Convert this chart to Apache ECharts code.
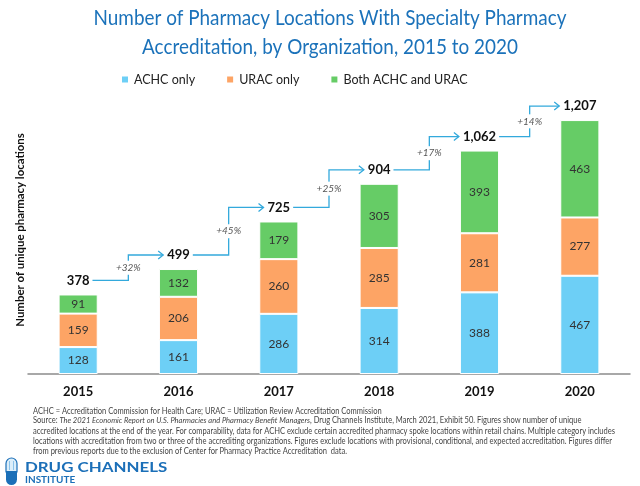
<!DOCTYPE html>
<html>
<head>
<meta charset="utf-8">
<script src="https://cdn.jsdelivr.net/npm/echarts@6/dist/echarts.min.js"></script>
<style>
html,body{margin:0;padding:0;background:#fff;}
#main{width:640px;height:486px;}
</style>
</head>
<body>
<div id="main"></div>
<script>
var years = ['2015','2016','2017','2018','2019','2020'];
var achcOnly = [128,161,286,314,388,467];
var uracOnly = [159,206,260,285,281,277];
var bothAchcUrac = [91,132,179,305,393,463];
var totals = [378,499,725,904,1062,1207];
var growthLabels = ['+32%','+45%','+25%','+17%','+14%'];
var totalLabels = ['378','499','725','904','1,062','1,207'];

var titleLines = ['Number of Pharmacy Locations With Specialty Pharmacy','Accreditation, by Organization, 2015 to 2020'];
var footerLines = [
  'ACHC = Accreditation Commission for Health Care; URAC = Utilization Review Accreditation Commission',
  'accredited locations at the end of the year. For comparability, data for ACHC exclude certain accredited pharmacy spoke locations within retail chains. Multiple category includes',
  'locations with accreditation from two or three of the accrediting organizations. Figures exclude locations with provisional, conditional, and expected accreditation. Figures differ',
  'from previous reports due to the exclusion of Center for Pharmacy Practice Accreditation  data.'
];

var FONT = 'Lato';
var mctx = document.createElement('canvas').getContext('2d');
function textW(t, font){ mctx.font = font; return mctx.measureText(t).width; }
var TOTAL_FONT = 'bold 13px ' + FONT;
var TITLE_FONT = '21px ' + FONT;
var FOOT_FONT = '8.5px ' + FONT;
var titleScale = 473 / textW(titleLines[0], TITLE_FONT);
var footScale = 582 / textW(footerLines[1], FOOT_FONT);

var chart = echarts.init(document.getElementById('main'));

var inLabel = {show:true, position:'inside', color:'#333', fontSize:12, fontFamily:FONT};

function footText(y, style){
  return {type:'text', x:33, y:y, scaleX:footScale, style:style};
}

var option = {
  backgroundColor:'#fff',
  animation:false,
  legend:{
    data:['ACHC only','URAC only','Both ACHC and URAC'],
    left:115, top:68, icon:'rect', itemWidth:8, itemHeight:8, itemGap:30,
    textStyle:{fontSize:12.5, color:'#222', fontFamily:FONT}
  },
  grid:{left:28, right:10, top:100.5, bottom:112},
  xAxis:{
    type:'category', data:years,
    axisLine:{lineStyle:{color:'#8c8c8c', width:1.5}},
    axisTick:{show:false},
    axisLabel:{fontWeight:'bold', fontSize:13, color:'#111', margin:11, fontFamily:FONT}
  },
  yAxis:{type:'value', min:0, max:1300, show:false, splitLine:{show:false}},
  series:[
    {name:'ACHC only', type:'bar', stack:'s', data:achcOnly, barWidth:'39%',
     itemStyle:{color:'#6dcff6', borderColor:'#fff', borderWidth:1}, label:inLabel},
    {name:'URAC only', type:'bar', stack:'s', data:uracOnly,
     itemStyle:{color:'#fda465', borderColor:'#fff', borderWidth:1}, label:inLabel},
    {name:'Both ACHC and URAC', type:'bar', stack:'s', data:bothAchcUrac,
     itemStyle:{color:'#66cc66', borderColor:'#fff', borderWidth:1}, label:inLabel},
    {type:'custom', silent:true, z:10,
     data: totals.map(function(v,i){return [i,v];}),
     renderItem:function(params, api){
       var i = api.value(0);
       var p = api.coord([i, totals[i]]);
       var yl = p[1] - 14;
       var w = textW(totalLabels[i], TOTAL_FONT);
       var children = [{
         type:'text',
         style:{text:totalLabels[i], x:p[0], y:yl, textAlign:'center', textVerticalAlign:'middle',
                font:TOTAL_FONT, fill:'#111'}
       }];
       if (i < totals.length - 1) {
         var q = api.coord([i+1, totals[i+1]]);
         var yl2 = q[1] - 14;
         var w2 = textW(totalLabels[i+1], TOTAL_FONT);
         var x0 = p[0] + w/2 + 3;
         var xm = (p[0] + q[0]) / 2;
         var x1 = q[0] - w2/2 - 4;
         children.push({
           type:'polyline',
           shape:{points:[[x0,yl],[xm,yl],[xm,yl2],[x1,yl2]]},
           style:{stroke:'#33a9dc', lineWidth:1.3, fill:null}
         });
         children.push({
           type:'polyline',
           shape:{points:[[x1-5,yl2-4],[x1,yl2],[x1-5,yl2+4]]},
           style:{stroke:'#33a9dc', lineWidth:1.3, fill:null}
         });
         children.push({
           type:'text', z2:5,
           style:{text:growthLabels[i], x:xm, y:(yl+yl2)/2, textAlign:'center', textVerticalAlign:'middle',
                  font:'italic 10px ' + FONT, fill:'#555', backgroundColor:'#fff', padding:[2,1]}
         });
       }
       return {type:'group', children:children};
     }
    }
  ],
  graphic:[
    {type:'text', x:330, y:32.5, scaleX:titleScale, style:{
      text:titleLines.join('\n'),
      x:0, y:0, textAlign:'center', textVerticalAlign:'middle',
      font:TITLE_FONT, fill:'#1b72ba', lineHeight:29}},
    {type:'text', rotation:Math.PI/2, x:20, y:230, scaleX:0.95, style:{
      text:'Number of unique pharmacy locations', x:0, y:0, textAlign:'center', textVerticalAlign:'middle',
      font:'bold 12px ' + FONT, fill:'#111'}},
    footText(411, {text:footerLines[0], textVerticalAlign:'middle', font:FOOT_FONT, fill:'#444'}),
    footText(420.5, {
      text:'{n|Source: }{i|The 2021 Economic Report on U.S. Pharmacies and Pharmacy Benefit Managers}{n|, Drug Channels Institute, March 2021, Exhibit 50. Figures show number of unique}',
      textVerticalAlign:'middle', rich:{n:{fontSize:8.5, fontFamily:FONT, fill:'#444'}, i:{fontSize:8.5, fontFamily:FONT, fontStyle:'italic', fill:'#444'}}}),
    footText(431, {text:footerLines[1], textVerticalAlign:'middle', font:FOOT_FONT, fill:'#444'}),
    footText(441, {text:footerLines[2], textVerticalAlign:'middle', font:FOOT_FONT, fill:'#444'}),
    footText(451, {text:footerLines[3], textVerticalAlign:'middle', font:FOOT_FONT, fill:'#444'}),
    {type:'rect', shape:{x:6, y:458, width:11, height:14, r:[5.5,5.5,0,0]}, style:{fill:'#dbeefa', stroke:'#1b6fb8', lineWidth:1.2}},
    {type:'rect', shape:{x:6, y:471, width:11, height:14, r:[0,0,5.5,5.5]}, style:{fill:'#1b6fb8'}},
    {type:'line', shape:{x1:9.5, y1:461, x2:9.5, y2:470}, style:{stroke:'#8cc3ea', lineWidth:1}},
    {type:'line', shape:{x1:13.5, y1:461, x2:13.5, y2:470}, style:{stroke:'#8cc3ea', lineWidth:1}},
    {type:'text', x:25, y:468, scaleX:1.3, style:{text:'DRUG CHANNELS', textVerticalAlign:'middle', font:'bold 13px ' + FONT, fill:'#1b6fb8'}},
    {type:'text', x:25, y:480, scaleX:1.05, style:{text:'INSTITUTE', textVerticalAlign:'middle', font:'bold 9.5px ' + FONT, fill:'#1b6fb8'}}
  ]
};
chart.setOption(option);
</script>
</body>
</html>
